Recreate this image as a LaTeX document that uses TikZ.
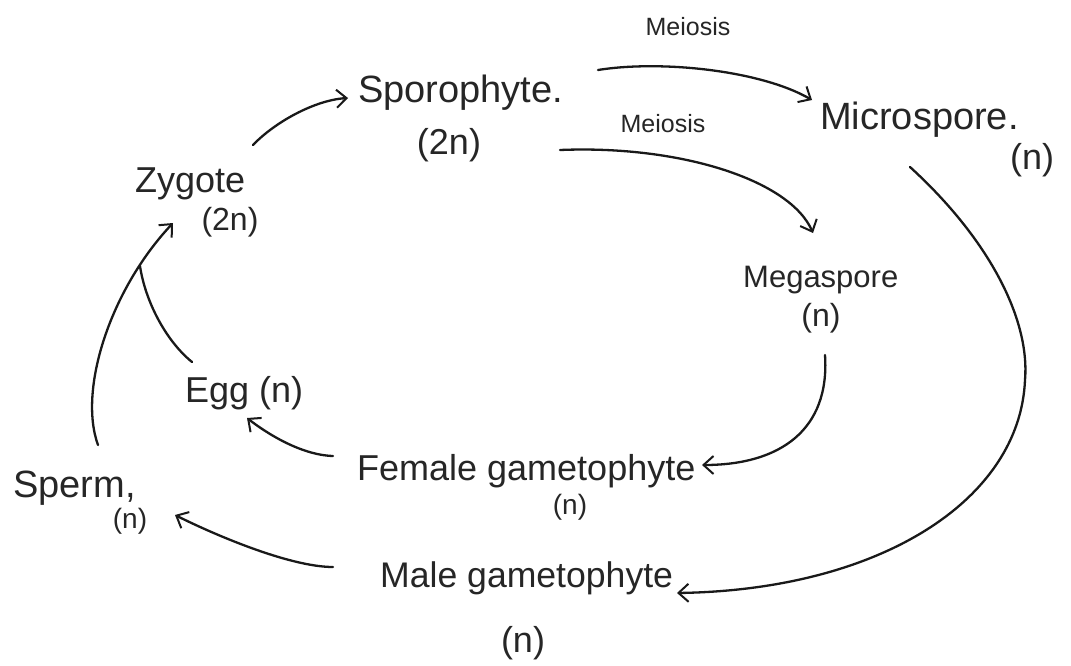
\documentclass[tikz,border=0pt]{standalone}
\usepackage{fontspec}
\setmainfont{Liberation Sans}
\usetikzlibrary{arrows.meta,calc}
\newcommand{\fsz}[1]{\fontsize{#1}{#1}\selectfont}
\tikzset{
  lbl/.style={inner sep=0pt, anchor=base west, text=black!85},
  sub/.style={inner sep=0pt, anchor=base, text=black!85},
  conn/.style={line width=2.3pt, black!90, line cap=round},
  tip/.style={conn, -{Straight Barb[length=10pt,width=18pt,line width=2pt]}}
}
\begin{document}
\begin{tikzpicture}[x=1pt,y=-1pt]
\fill[white] (0,0) rectangle (1071,666);
\useasboundingbox (0,0) rectangle (1071,666);
% texts
\node[lbl, font=\fsz{38}] (spo) at (358,103) {Sporophyte.};
\node[sub, font=\fsz{36}] (spon) at (449,155) {(2n)};
\node[lbl, font=\fsz{38}] (mic) at (820,130) {Microspore.};
\node[sub, font=\fsz{36}] (micn) at (1032,170) {(n)};
\node[lbl, font=\fsz{31}] (meg) at (743,287) {Megaspore};
\node[sub, font=\fsz{32}] (megn) at (821,326) {(n)};
\node[lbl, font=\fsz{36}] (zyg) at (135,192) {Zygote};
\node[sub, font=\fsz{32}] (zygn) at (230,230) {(2n)};
\node[lbl, font=\fsz{36}] (egg) at (185,402) {Egg (n)};
\node[lbl, font=\fsz{38}] (sperm) at (13,497) {Sperm,};
\node[sub, font=\fsz{28}] (spermn) at (130,528) {(n)};
\node[lbl, font=\fsz{36}] (fem) at (357,480) {Female gametophyte};
\node[sub, font=\fsz{28}] (femn) at (570,514) {(n)};
\node[lbl, font=\fsz{35.6}] (male) at (380,587) {Male gametophyte};
\node[sub, font=\fsz{36}] (malen) at (523,652) {(n)};
\node[sub, font=\fsz{25}] (mei1) at (688,36) {Meiosis};
\node[sub, font=\fsz{25}] (mei2) at (663,133) {Meiosis};
% connectors
\draw[tip] ($(zyg.base west)+(118,-47)$) .. controls (275,122) and (315,100) .. ($(spo.base west)+(-10,-5)$);
\draw[tip] ($(spo.base west)+(240,-33)$) .. controls (660,60) and (760,70) .. ($(mic.base west)+(-8,-30)$);
\draw[tip] ($(spon.base)+(111,-5)$) .. controls (680,145) and (790,180) .. ($(meg.base west)+(70,-54)$);
\draw[tip] ($(mic.base west)+(90,37)$) .. controls (990,240) and (1030,320) .. (1025,380)
   .. controls (1020,500) and (880,590) .. ($(male.base west)+(297,6)$);
\draw[tip] ($(megn.base)+(4,29)$) .. controls (830,430) and (780,465) .. ($(fem.base west)+(345,-15)$);
\draw[tip] ($(fem.base west)+(-24,-24)$) .. controls (300,455) and (265,432) .. ($(egg.base west)+(62,16)$);
\coordinate (join) at (140,266);
\draw[tip] ($(sperm.base west)+(85,-52)$) .. controls (78,390) and (110,290) .. ($(zyg.base west)+(38,31)$);
\draw[conn] ($(egg.base west)+(7,-40)$) .. controls (165,340) and (145,300) .. (join);
\draw[tip] ($(male.base west)+(-47,-20)$) .. controls (290,567) and (215,535) .. ($(sperm.base west)+(162,18)$);
\end{tikzpicture}
\end{document}
